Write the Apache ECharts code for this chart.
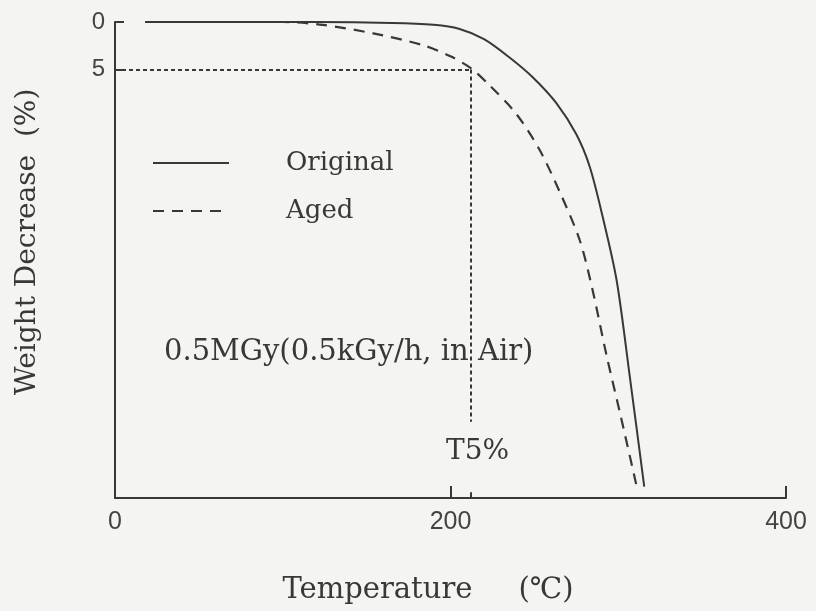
<!DOCTYPE html>
<html><head><meta charset="utf-8">
<script src="https://cdn.jsdelivr.net/npm/echarts@6/dist/echarts.min.js"></script>
<style>html,body{margin:0;padding:0;background:#f4f4f2}#c{width:816px;height:611px}</style>
</head><body><div id="c"></div>
<script>
// Data (temperature in ℃, weight decrease in %)
const origTemp = [18, 120, 165, 190, 205, 220, 235, 249, 263, 275, 283, 290.5, 299, 307, 315.5];
const origLoss = [0, 0, 0.1, 0.3, 0.7, 1.8, 3.7, 5.8, 8.5, 11.8, 15.2, 20.3, 27.1, 37.4, 48.8];
const agedTemp = [18, 100, 124, 154, 183, 200, 212.5, 223, 239, 253, 265, 277, 284.5, 293, 302, 311];
const agedLoss = [0, 0, 0.3, 1.2, 2.4, 3.6, 4.9, 6.6, 9.6, 13.4, 17.8, 22.9, 28, 35, 41.8, 48.8];
const xTickLabels = [0, 200, 400];
const yTickLabels = [0, 5];
const xTickMarks = [200, 400];
const T5 = 212;          // temperature at 5% weight decrease
const level5 = 5;        // 5% level
const dropEnd = 42;      // where vertical guide ends
const seriesNames = ['Original', 'Aged'];

const zip = (a, b) => a.map((v, i) => [v, b[i]]);
const ink = '#383838';
const serif = 'DejaVu Serif';
const sans = 'Liberation Sans';

const chart = echarts.init(document.getElementById('c'));
chart.setOption({
  backgroundColor: '#f4f4f2',
  animation: false,
  grid: { left: 115, right: 30, top: 22, bottom: 113 },
  xAxis: {
    type: 'value', min: 0, max: 400,
    position: 'bottom',
    splitLine: { show: false },
    axisLine: { onZero: false, lineStyle: { color: ink, width: 2 } },
    axisTick: { show: true, inside: true, length: 12, customValues: xTickMarks, lineStyle: { color: ink, width: 2 } },
    axisLabel: { customValues: xTickLabels, margin: 12, fontFamily: sans, fontSize: 25, color: '#444' },
    name: 'Temperature     (℃)', nameLocation: 'middle', nameGap: 78,
    nameTextStyle: { fontFamily: serif, fontSize: 29, color: ink, padding: [0, 45, 0, 0] }
  },
  yAxis: {
    type: 'value', min: 0, max: 50, inverse: true,
    splitLine: { show: false },
    axisLine: { lineStyle: { color: ink, width: 2 } },
    axisTick: { show: true, inside: true, length: 9, customValues: yTickLabels, lineStyle: { color: ink, width: 2 } },
    axisLabel: { customValues: yTickLabels, margin: 10, fontFamily: sans, fontSize: 24, color: '#444' },
    name: 'Weight Decrease  (%)', nameLocation: 'middle', nameGap: 73, nameRotate: 90,
    nameTextStyle: { fontFamily: serif, fontSize: 28, color: ink, padding: [0, 0, 0, 36] }
  },
  legend: {
    orient: 'vertical', left: 147, top: 144,
    itemWidth: 76, itemHeight: 28, itemGap: 20,
    data: seriesNames,
    itemStyle: { opacity: 0 },
    textStyle: { fontFamily: serif, fontSize: 26, lineHeight: 28, color: ink, padding: [0, 0, 0, 52] }
  },
  series: [
    {
      name: seriesNames[0], type: 'line', data: zip(origTemp, origLoss),
      smooth: 0.3, symbol: 'none', lineStyle: { color: ink, width: 2, type: 'solid' }, itemStyle: { color: ink },
      markLine: {
        silent: true, symbol: 'none', label: { show: false },
        lineStyle: { color: ink, width: 2, type: [4, 3] },
        data: [
          [{ coord: [0, level5] }, { coord: [T5, level5] }],
          [{ coord: [T5, level5] }, { coord: [T5, dropEnd] }],
          [{ coord: [T5, 50], lineStyle: { type: 'solid', width: 2 } }, { coord: [T5, 49.4] }]
        ]
      }
    },
    {
      name: seriesNames[1], type: 'line', data: zip(agedTemp, agedLoss),
      smooth: 0.3, symbol: 'none', lineStyle: { color: ink, width: 2.2, type: [11, 8] }, itemStyle: { color: ink }
    }
  ],
  graphic: [
    { type: 'text', left: 164, top: 338, style: { text: '0.5MGy(0.5kGy/h, in Air)', font: '29px "DejaVu Serif"', fill: ink } },
    { type: 'text', left: 446, top: 438, style: { text: 'T5%', font: '28px "DejaVu Serif"', fill: ink } }
  ]
});
</script></body></html>
